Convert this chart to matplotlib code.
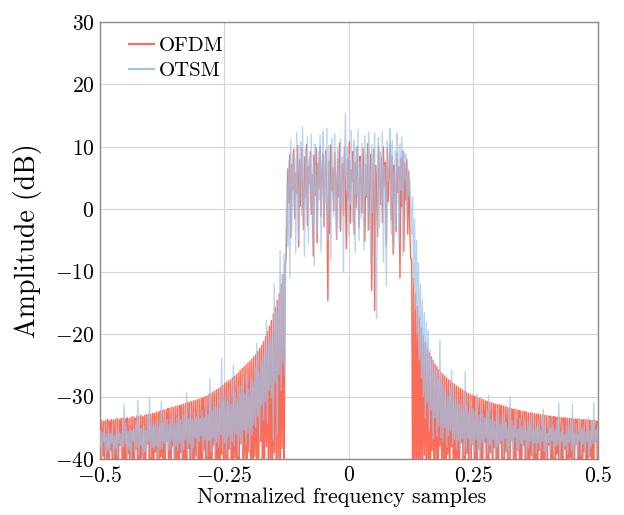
import numpy as np
import matplotlib
matplotlib.use("Agg")
import matplotlib.pyplot as plt

plt.rcParams["font.family"] = "serif"
plt.rcParams["font.serif"] = ["cmr10"]
plt.rcParams["mathtext.fontset"] = "cm"
plt.rcParams["axes.formatter.use_mathtext"] = True

# Power spectrum samples in dB: lower out-of-band, in-band, upper out-of-band
ofdm_lower = [
    -33.9, -44.0, -33.8, -39.5, -34.0, -48.0, -33.8, -41.2, -33.7, -52.0, -33.9, -38.6, -33.7, -45.5, -33.8, -40.8,
    -33.6, -50.0, -33.5, -42.3, -33.7, -37.8, -33.5, -46.9, -33.4, -41.0, -33.6, -54.0, -33.4, -39.2, -33.5, -44.7,
    -33.3, -40.1, -33.2, -49.3, -33.4, -38.4, -33.1, -43.6, -33.2, -47.2, -33.0, -39.8, -33.2, -53.1, -33.0, -41.7,
    -32.9, -37.6, -32.9, -45.9, -32.8, -40.4, -32.7, -48.6, -32.7, -38.9, -32.5, -43.0, -32.5, -51.2, -32.3, -39.6,
    -32.2, -46.3, -32.1, -41.5, -32.1, -37.2, -31.9, -49.8, -31.9, -42.6, -31.7, -38.0, -31.7, -45.1, -31.5, -40.7,
    -31.5, -52.6, -31.4, -39.0, -31.3, -44.2, -31.2, -41.9, -31.1, -47.8, -31.0, -38.3, -30.9, -50.4, -30.8, -42.1,
    -30.7, -44.0, -30.6, -39.5, -30.5, -48.0, -30.4, -41.2, -30.3, -52.0, -30.2, -38.6, -30.0, -45.5, -29.9, -40.8,
    -29.7, -50.0, -29.5, -42.3, -29.3, -37.8, -29.1, -46.9, -28.9, -41.0, -28.7, -54.0, -28.5, -39.2, -28.2, -44.7,
    -27.9, -40.1, -27.7, -49.3, -27.5, -38.4, -27.3, -43.6, -27.0, -47.2, -26.8, -39.8, -26.5, -53.1, -26.2, -41.7,
    -25.8, -37.6, -25.5, -45.9, -25.2, -40.4, -24.9, -48.6, -24.6, -38.9, -24.3, -43.0, -24.0, -51.2, -23.6, -39.6,
    -23.3, -46.3, -22.8, -41.5, -22.3, -37.2, -21.8, -49.8, -21.2, -42.6, -20.4, -38.0, -19.6, -45.1, -18.7, -40.7,
    -17.8, -52.6, -16.8, -39.0, -15.8, -44.2, -14.6, -41.9, -13.5, -47.8, -12.0, -38.3, -10.5, -50.4, -9.0, -8.0,
]
ofdm_band = [
    -3.0, 6.5, 1.0, 8.8, -4.5, 7.2, 3.0, 9.6, -1.5, 5.8, 2.5, 10.2, -6.0, 7.9, 0.5, 9.9,
    3.8, -3.2, 8.4, 1.8, 10.4, -2.6, 6.9, 4.1, 9.2, -0.8, 5.5, -7.5, 8.7, 2.2, 9.8, -5.4,
    7.4, 3.3, 10.1, -1.1, 6.2, 8.9, -2.8, 4.6, 9.5, 1.4, -14.6, 7.7, -3.9, 10.3, 2.9, 6.6,
    -0.2, 9.1, 4.8, -4.8, 8.1, 2.0, 10.6, -3.5, 5.0, 7.3, -1.0, 9.9, 3.1, -6.3, 8.0, 1.6,
    10.8, -2.2, 6.4, 4.4, 9.3, -4.0, 7.6, 0.3, 10.0, 2.6, -2.9, 8.5, 5.2, -0.6, 9.7, 3.4,
    -5.1, 7.1, 1.9, 10.5, -3.3, 6.0, 8.8, -13.0, 4.2, 9.6, -16.2, 7.0, 2.3, -4.4, 10.1, 5.6,
    0.8, 8.3, -2.1, 10.0, 3.6, 7.5, -5.9, 9.7, 1.2, 6.0, 10.5, -1.7, 8.6, -7.2, 7.1, 3.9,
    -3.6, 9.0, 2.7, 6.8, -11.0, 8.2, 0.4, 9.4, -6.7, 7.3, 1.5, 8.0, -4.0, 6.1, -2.5, -8.0,
]
ofdm_upper = [
    -8.0, -47.0, -11.0, -52.0, -13.5, -44.0, -15.5, -50.5, -17.3, -42.5, -19.0, -48.8, -20.3, -39.4, -21.4, -45.6,
    -22.3, -41.3, -23.0, -53.5, -23.6, -38.7, -24.2, -46.4, -24.8, -40.2, -25.2, -49.1, -25.7, -37.9, -26.1, -44.3,
    -26.4, -41.6, -26.7, -51.7, -27.0, -39.3, -27.3, -45.0, -27.5, -38.1, -27.8, -47.5, -28.0, -42.0, -28.3, -54.2,
    -28.5, -40.0, -28.7, -37.4, -28.9, -46.7, -29.1, -43.2, -29.3, -39.1, -29.5, -49.9, -29.6, -41.4, -29.8, -37.7,
    -29.9, -52.3, -30.0, -44.5, -30.2, -38.5, -30.3, -47.1, -30.4, -40.9, -30.5, -37.3, -30.7, -50.8, -30.8, -43.7,
    -30.9, -39.0, -31.0, -45.3, -31.1, -38.2, -31.2, -53.6, -31.3, -41.8, -31.3, -37.5, -31.4, -48.4, -31.5, -42.7,
    -31.6, -38.8, -31.7, -46.2, -31.8, -40.6, -31.9, -37.0, -32.0, -51.0, -32.0, -43.9, -32.1, -38.6, -32.2, -47.7,
    -32.3, -41.1, -32.4, -37.8, -32.4, -49.5, -32.5, -42.0, -32.6, -44.0, -32.6, -39.5, -32.7, -48.0, -32.7, -41.2,
    -32.8, -52.0, -32.8, -38.6, -32.9, -45.5, -32.9, -40.8, -33.0, -50.0, -33.0, -42.3, -33.1, -37.8, -33.1, -46.9,
    -33.2, -41.0, -33.2, -54.0, -33.3, -39.2, -33.3, -44.7, -33.3, -40.1, -33.4, -49.3, -33.4, -38.4, -33.4, -43.6,
    -33.5, -47.2, -33.5, -39.8, -33.5, -53.1, -33.6, -41.7, -33.6, -37.6, -33.6, -45.9, -33.6, -40.4, -33.7, -48.6,
    -33.7, -38.9, -33.7, -43.0, -33.7, -51.2, -33.8, -39.6, -33.8, -46.3, -33.8, -41.5, -33.8, -37.2, -33.9, -49.8,
]

otsm_lower = [
    -38.0, -35.5, -39.5, -35.8, -37.2, -34.4, -40.5, -36.0, -38.6, -35.2, -39.0, -35.9, -37.5, -34.9, -39.8, -36.3,
    -38.3, -35.4, -39.5, -34.8, -37.4, -35.9, -40.5, -35.6, -38.0, -31.2, -37.6, -34.3, -39.2, -35.6, -38.5, -35.1,
    -40.3, -35.4, -37.1, -35.2, -38.9, -33.9, -38.2, -30.6, -39.4, -35.1, -37.7, -35.0, -40.1, -34.6, -38.8, -35.4,
    -39.0, -33.2, -37.3, -30.1, -39.7, -34.1, -38.1, -34.5, -38.6, -34.3, -37.9, -33.8, -40.0, -34.6, -38.4, -30.8,
    -38.3, -34.2, -37.5, -33.0, -39.2, -33.7, -38.7, -34.4, -38.4, -33.5, -37.0, -32.6, -40.5, -34.3, -38.0, -33.3,
    -38.7, -32.3, -37.4, -33.7, -39.8, -32.9, -38.5, -33.0, -36.9, -29.4, -39.1, -33.5, -37.6, -31.4, -40.4, -33.5,
    -38.2, -32.5, -36.6, -33.3, -39.5, -31.5, -37.2, -33.5, -36.3, -32.2, -38.9, -33.3, -36.9, -31.0, -39.5, -32.9,
    -37.0, -27.1, -38.8, -32.1, -36.7, -30.8, -39.6, -31.7, -37.3, -30.2, -38.1, -32.0, -36.1, -23.9, -38.7, -30.5,
    -37.4, -29.6, -39.2, -30.7, -36.5, -28.9, -38.5, -31.2, -37.3, -25.0, -37.9, -29.3, -36.0, -30.4, -39.5, -28.5,
    -36.6, -28.2, -38.3, -27.0, -35.4, -29.5, -37.7, -26.4, -35.8, -28.8, -38.3, -26.9, -36.1, -27.7, -34.5, -25.3,
    -35.0, -21.5, -33.2, -26.0, -36.5, -24.1, -31.4, -23.5, -33.7, -22.6, -30.8, -17.8, -34.3, -21.4, -29.0, -20.2,
    -30.2, -19.6, -37.0, -11.9, -27.8, -16.3, -36.0, -14.8, -26.5, -6.6, -29.0, -10.4, -24.8, -7.2, -26.5, -3.5,
]
otsm_band = [
    4.5, -6.0, 7.8, -11.0, 11.2, -3.5, 9.0, 0.5, 8.2, -7.0, 12.3, 2.0, -4.8, 6.5, 10.8, -1.0,
    13.2, 3.5, -7.5, 9.6, 0.0, 11.6, -5.5, 8.0, 2.8, 12.0, -2.5, 6.8, -9.0, 10.4, 4.2, -3.8,
    9.3, 1.5, 11.9, -6.8, 7.2, 12.5, -2.2, 8.6, 0.9, 13.0, -5.0, 10.2, 3.4, -8.2, 11.4, 5.0,
    -1.2, 12.1, 2.9, -4.6, 9.7, 6.1, -3.0, 11.3, 1.1, 8.4, -10.0, 7.2, 15.4, 3.0, 10.0, -4.2,
    8.8, 0.8, 12.6, -2.0, 6.0, 11.0, -7.0, 9.8, 2.5, 12.8, -5.0, 7.6, -1.5, 10.6, 4.0, -6.5,
    11.8, 2.2, 9.0, -3.4, 12.4, 5.1, -8.8, 10.3, -0.5, 7.9, 12.2, -12.0, -17.5, 8.5, 11.5, -3.0,
    9.2, 1.0, 12.4, -8.5, 7.0, 3.2, -12.3, 10.9, 4.6, 8.0, 12.9, -4.0, 11.0, 1.8, -6.2, 9.5,
    -2.8, 12.2, 8.2, -5.5, 10.5, 3.0, 11.6, -7.4, 9.0, 4.8, 8.8, -1.5, 6.5, 2.2, 5.0, 1.0,
]
otsm_upper = [
    -4.0, 2.0, -12.0, -1.5, -16.0, -5.0, -20.0, -8.5, -24.0, -12.0, -27.0, -14.5, -30.0, -16.5, -33.5, -18.0,
    -31.0, -19.4, -35.5, -22.5, -32.2, -24.0, -36.8, -25.5, -33.4, -26.0, -36.3, -27.2, -34.8, -21.0, -36.6, -28.0,
    -37.2, -28.6, -35.0, -29.4, -38.1, -30.0, -36.3, -28.8, -35.5, -25.8, -37.6, -30.5, -36.9, -29.6, -38.5, -31.0,
    -37.1, -31.2, -39.0, -30.4, -36.7, -32.0, -39.4, -26.0, -38.1, -31.5, -36.8, -32.6, -39.9, -30.8, -37.6, -31.9,
    -39.0, -32.4, -36.9, -29.5, -38.8, -33.0, -40.1, -31.6, -37.3, -32.8, -39.3, -33.4, -36.6, -31.9, -39.4, -29.8,
    -37.8, -33.6, -39.4, -32.5, -36.9, -34.0, -40.2, -33.1, -38.0, -31.8, -39.3, -34.4, -37.0, -33.0, -39.6, -32.7,
    -36.8, -34.1, -38.5, -35.0, -39.6, -30.0, -37.2, -33.9, -39.2, -34.6, -36.6, -32.9, -40.0, -35.2, -38.4, -33.5,
    -37.5, -34.8, -39.0, -33.2, -36.9, -35.4, -39.8, -33.9, -38.2, -34.3, -37.1, -32.4, -40.3, -35.6, -37.4, -34.0,
    -39.1, -34.9, -37.4, -33.7, -39.4, -35.5, -37.1, -32.0, -38.8, -34.6, -40.5, -35.9, -37.3, -33.4, -39.2, -35.0,
    -37.0, -34.5, -39.7, -35.3, -38.0, -33.8, -37.6, -31.0, -40.3, -35.7, -37.2, -34.2, -39.5, -36.0, -37.9, -34.8,
    -39.2, -35.4, -37.3, -33.9, -38.6, -31.2, -40.0, -35.8, -37.6, -34.4, -39.4, -36.1, -37.0, -33.6, -39.5, -35.2,
    -37.6, -34.7, -39.1, -35.7, -37.2, -33.3, -40.4, -35.5, -38.2, -34.1, -37.5, -31.0, -39.6, -35.4, -37.0, -34.6,
]

ofdm = np.array(ofdm_lower + ofdm_band + ofdm_upper)
otsm = np.array(otsm_lower + otsm_band + otsm_upper)
freq = np.linspace(-0.5, 0.5, len(ofdm))

x_ticks = [-0.5, -0.25, 0, 0.25, 0.5]
x_tick_labels = ["$-0.5$", "$-0.25$", "$0$", "$0.25$", "$0.5$"]
y_ticks = [-40, -30, -20, -10, 0, 10, 20, 30]
y_tick_labels = ["$-40$", "$-30$", "$-20$", "$-10$", "$0$", "$10$", "$20$", "$30$"]

fig = plt.figure(figsize=(6.24, 5.15), dpi=100)
ax = fig.add_axes([0.160, 0.1087, 0.798, 0.8486])

ax.plot(freq, ofdm, color="#fb6b57", lw=1.0, label="OFDM", zorder=3)
ax.plot(freq, otsm, color="#9ec4ea", lw=1.0, alpha=0.72, label="OTSM", zorder=4)

ax.set_xlim(-0.5, 0.5)
ax.set_ylim(-40, 30)
ax.set_xticks(x_ticks)
ax.set_xticklabels(x_tick_labels)
ax.set_yticks(y_ticks)
ax.set_yticklabels(y_tick_labels)
ax.tick_params(length=0, labelsize=15.5, pad=4)
ax.tick_params(axis="x", pad=5)
ax.grid(True, color="#d4d4d4", lw=0.8)
ax.set_axisbelow(True)
for s in ax.spines.values():
    s.set_color("#8a8a8a")
    s.set_linewidth(1.0)

ax.set_xlabel("Normalized frequency samples", fontsize=15.8)
ax.xaxis.set_label_coords(0.486, -0.064)
ax.set_ylabel("Amplitude (dB)", fontsize=20, labelpad=9)

leg = ax.legend(loc="upper left", frameon=False, fontsize=15,
                handlelength=1.2, handletextpad=0.2, labelspacing=0.3,
                borderaxespad=0.3, bbox_to_anchor=(0.03, 1.0))
for h in leg.get_lines():
    h.set_alpha(1.0)
    h.set_linewidth(1.5)

fig.savefig("out.png", dpi=100)
